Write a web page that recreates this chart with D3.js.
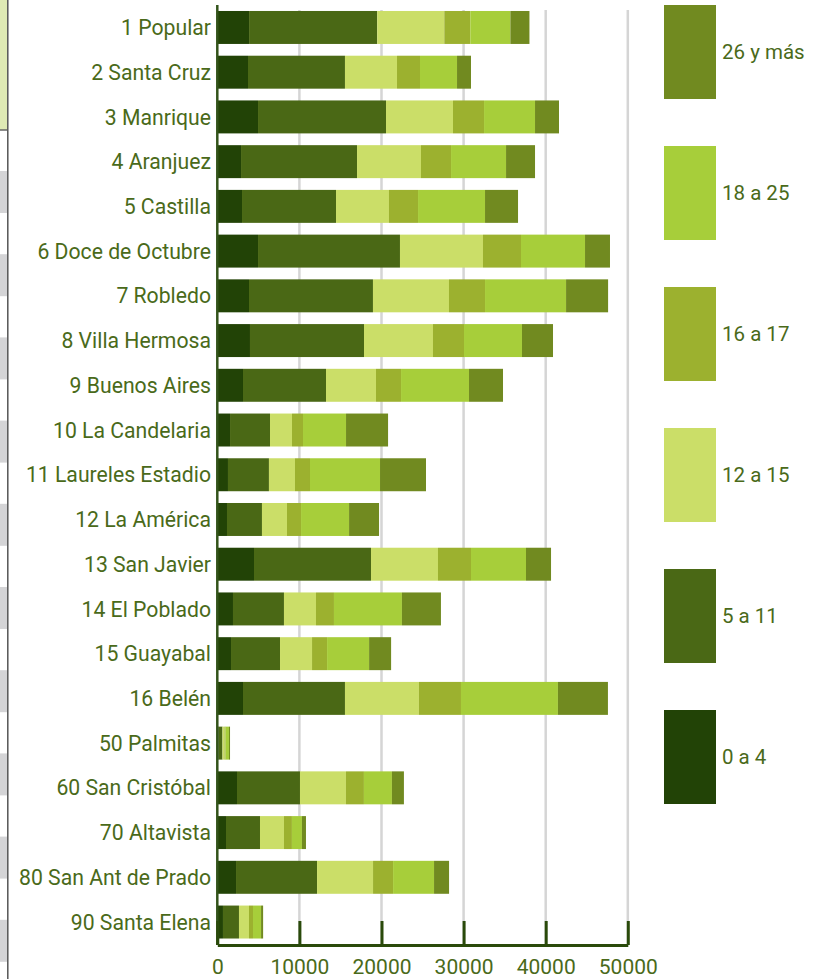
<!DOCTYPE html>
<html>
  <head>
    <meta charset="utf-8">
    <title>Población por comuna y grupo de edad</title>
<style>
body { margin: 0; background: #fff; }
text { font-family: Roboto, "Open Sans", sans-serif; fill: #4a6a1a; }
</style>
    <script src="https://d3js.org/d3.v7.min.js"></script>
  </head>
  <body>
    <script type="text/javascript">

    // categories (comunas), top to bottom
    var comunas = ["1 Popular", "2 Santa Cruz", "3 Manrique", "4 Aranjuez", "5 Castilla",
      "6 Doce de Octubre", "7 Robledo", "8 Villa Hermosa", "9 Buenos Aires", "10 La Candelaria",
      "11 Laureles Estadio", "12 La América", "13 San Javier", "14 El Poblado", "15 Guayabal",
      "16 Belén", "50 Palmitas", "60 San Cristóbal", "70 Altavista", "80 San Ant de Prado",
      "90 Santa Elena"];

    // series values, one array per age group
    var edad0a4   = [3870, 3740, 4960, 2890, 3010, 4960, 3860, 3980, 3130, 1550, 1300, 1180, 4470, 1910, 1670, 3130, 150, 2400, 1060, 2280, 690];
    var edad5a11  = [15610, 11810, 15590, 14130, 11450, 17290, 15100, 13890, 10110, 4870, 4990, 4260, 14250, 6210, 5970, 12420, 480, 7670, 4140, 9870, 1950];
    var edad12a15 = [8170, 6340, 8160, 7790, 6450, 10110, 9260, 8400, 6090, 2680, 3170, 3050, 8160, 3900, 3900, 9010, 250, 5600, 2920, 6820, 1220];
    var edad16a17 = [3170, 2800, 3780, 3660, 3540, 4630, 4390, 3780, 3050, 1340, 1830, 1710, 4020, 2190, 1830, 5120, 120, 2190, 970, 2440, 490];
    var edad18a25 = [4880, 4510, 6210, 6700, 8160, 7800, 9870, 7060, 8280, 5240, 8530, 5850, 6700, 8280, 5120, 11810, 420, 3410, 1220, 4990, 980];
    var edad26mas = [2320, 1700, 2920, 3530, 4020, 3040, 5120, 3780, 4140, 5120, 5600, 3650, 3050, 4750, 2680, 6090, 130, 1460, 490, 1830, 250];

    var grupos = ["0 a 4", "5 a 11", "12 a 15", "16 a 17", "18 a 25", "26 y más"];
    var colores = ["#224306", "#4a6815", "#cbde68", "#9cb12f", "#a7ce3a", "#718a20"];
    var ticks = [0, 10000, 20000, 30000, 40000, 50000];

    var series = [edad0a4, edad5a11, edad12a15, edad16a17, edad18a25, edad26mas];

    // table for d3.stack
    var data = comunas.map(function(c, i) {
      var row = {comuna: c};
      grupos.forEach(function(g, j) { row[g] = series[j][i]; });
      return row;
    });

    var width = 827, height = 979;

    var svg = d3.select("body").append("svg")
      .attr("width", width)
      .attr("height", height);

    // clipped panel at the left edge of the screenshot
    var edge = svg.append("g");
    edge.append("rect").attr("x", 0).attr("y", 0).attr("width", 7.5).attr("height", 130)
      .attr("fill", "#dfeab4");
    edge.append("line").attr("x1", 0).attr("x2", 7.5).attr("y1", 130).attr("y2", 130)
      .attr("stroke", "#666").attr("stroke-width", 1.5);
    edge.selectAll("rect.tab").data(d3.range(10)).enter().append("rect")
      .attr("class", "tab")
      .attr("x", 0).attr("width", 7)
      .attr("y", function(d) { return 171 + d * 83.2; })
      .attr("height", 42)
      .attr("fill", "#d4d4d6");
    edge.append("line").attr("x1", 7.8).attr("x2", 7.8).attr("y1", 0).attr("y2", height)
      .attr("stroke", "#555").attr("stroke-width", 1.5);

    // scales
    var x = d3.scaleLinear().domain([0, 50000]).range([217.3, 627.8]);
    var y = d3.scaleBand().domain(comunas)
      .range([5.1, 944.4])
      .paddingInner(0.263)
      .paddingOuter(0.1315);

    var axisY = 945;

    // gridlines
    svg.append("g")
      .selectAll("line").data(ticks.slice(1)).enter().append("line")
      .attr("x1", function(d) { return x(d); })
      .attr("x2", function(d) { return x(d); })
      .attr("y1", 10).attr("y2", axisY)
      .attr("stroke", "#d5d5d5")
      .attr("stroke-width", 2.5);

    // stacked bars
    var stack = d3.stack().keys(grupos);
    var layers = stack(data);

    svg.append("g")
      .selectAll("g").data(layers).enter().append("g")
        .attr("fill", function(d, i) { return colores[i]; })
      .selectAll("rect").data(function(d) { return d; }).enter().append("rect")
        .attr("x", function(d) { return x(d[0]); })
        .attr("width", function(d) { return x(d[1]) - x(d[0]); })
        .attr("y", function(d) { return y(d.data.comuna); })
        .attr("height", y.bandwidth());

    // y axis line and labels
    svg.append("line")
      .attr("x1", x(0)).attr("x2", x(0))
      .attr("y1", 5).attr("y2", axisY)
      .attr("stroke", "#33531a").attr("stroke-width", 2.5);

    svg.append("g")
      .selectAll("text").data(comunas).enter().append("text")
      .attr("x", 211)
      .attr("y", function(d) { return y(d) + y.bandwidth() / 2; })
      .attr("dy", "0.36em")
      .attr("text-anchor", "end")
      .style("font-size", "21.2px")
      .text(function(d) { return d; });

    // x axis, ticks pointing up
    var xAxis = svg.append("g")
      .attr("transform", "translate(0," + axisY + ")")
      .call(d3.axisBottom(x).tickValues(ticks).tickFormat(d3.format("d"))
        .tickSizeInner(-24).tickSizeOuter(0).tickPadding(14));
    xAxis.select(".domain").attr("stroke", "#2a4a0b").attr("stroke-width", 3);
    xAxis.selectAll(".tick line").attr("stroke", "#2a4a0b").attr("stroke-width", 3);
    xAxis.selectAll(".tick text")
      .style("font-size", "21px")
      .style("font-family", "Roboto, sans-serif")
      .attr("fill", "#4a6a1a");

    // legend, top to bottom from 26 y más down to 0 a 4
    var legendOrder = grupos.slice().reverse();
    var legend = svg.append("g")
      .selectAll("g").data(legendOrder).enter().append("g")
      .attr("transform", function(d, i) { return "translate(664," + (5 + i * 141) + ")"; });

    legend.append("rect")
      .attr("width", 52).attr("height", 94)
      .attr("fill", function(d) { return colores[grupos.indexOf(d)]; });

    legend.append("text")
      .attr("x", 58).attr("y", 47)
      .attr("dy", "0.36em")
      .style("font-size", "20.5px")
      .text(function(d) { return d; });

    </script>
  </body>
</html>
